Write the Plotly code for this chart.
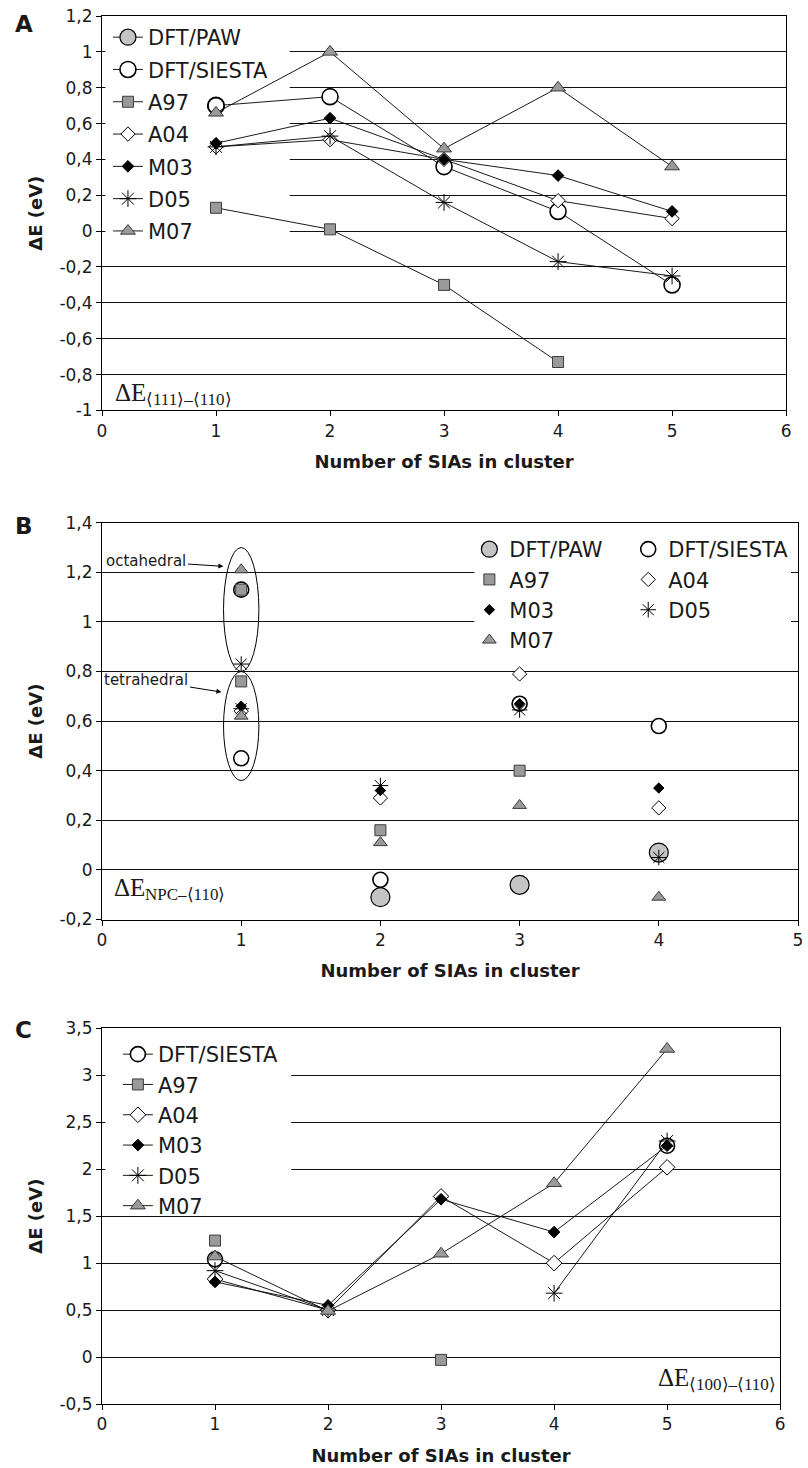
import plotly.graph_objects as go

FONT = "DejaVu Sans"
SERIF = "Liberation Serif"

# ---------------- data ----------------
series_names = ["DFT/PAW", "DFT/SIESTA", "A97", "A04", "M03", "D05", "M07"]

# Panel A : dE <111>-<110>
a_paw_x = [1]
a_paw = [0.70]
a_x = [1, 2, 3, 4, 5]
a_siesta = [0.70, 0.75, 0.36, 0.11, -0.30]
a_a97_x = [1, 2, 3, 4]
a_a97 = [0.13, 0.01, -0.30, -0.73]
a_a04 = [0.47, 0.51, 0.40, 0.17, 0.07]
a_m03 = [0.49, 0.63, 0.40, 0.31, 0.11]
a_d05 = [0.47, 0.53, 0.16, -0.17, -0.25]
a_m07 = [0.66, 1.00, 0.46, 0.80, 0.36]

# Panel B : dE NPC-<110>
b_paw_x = [2, 3, 4]
b_paw = [-0.11, -0.06, 0.07]
b_siesta_x = [1, 1, 2, 3, 4]
b_siesta = [1.13, 0.45, -0.04, 0.67, 0.58]
b_a97_x = [1, 1, 2, 3]
b_a97 = [1.13, 0.76, 0.16, 0.40]
b_a04_x = [1, 2, 3, 4]
b_a04 = [0.64, 0.29, 0.79, 0.25]
b_m03_x = [1, 2, 3, 4]
b_m03 = [0.66, 0.32, 0.67, 0.33]
b_d05_x = [1, 1, 2, 3, 4]
b_d05 = [0.83, 0.65, 0.34, 0.645, 0.05]
b_m07_x = [1, 1, 2, 3, 4]
b_m07 = [1.21, 0.62, 0.11, 0.26, -0.11]

# Panel C : dE <100>-<110>
c_x = [1, 2, 3, 4, 5]
c_siesta = [1.04, None, None, None, 2.25]
c_a97 = [1.24, None, -0.03, None, None]
c_a04 = [0.83, 0.50, 1.71, 1.00, 2.02]
c_m03 = [0.80, 0.55, 1.68, 1.33, 2.25]
c_d05 = [0.92, 0.50, None, 0.68, 2.30]
c_m07 = [1.07, 0.49, 1.10, 1.85, 3.28]

# tick labels
a_yticks = [-1, -0.8, -0.6, -0.4, -0.2, 0, 0.2, 0.4, 0.6, 0.8, 1, 1.2]
a_yticktext = ["-1", "-0,8", "-0,6", "-0,4", "-0,2", "0", "0,2", "0,4", "0,6", "0,8", "1", "1,2"]
b_yticks = [-0.2, 0, 0.2, 0.4, 0.6, 0.8, 1, 1.2, 1.4]
b_yticktext = ["-0,2", "0", "0,2", "0,4", "0,6", "0,8", "1", "1,2", "1,4"]
c_yticks = [-0.5, 0, 0.5, 1, 1.5, 2, 2.5, 3, 3.5]
c_yticktext = ["-0,5", "0", "0,5", "1", "1,5", "2", "2,5", "3", "3,5"]
x6_ticks = [0, 1, 2, 3, 4, 5, 6]
x5_ticks = [0, 1, 2, 3, 4, 5]

x_title = "Number of SIAs in cluster"
y_title = "ΔE (eV)"

# ---------------- styles ----------------
W, H = 808, 1468
L, R, T, B = 102, 5, 16, 64
PW = W - L - R
PH = H - T - B


def px_x(px):
    return (px - L) / PW


def px_y(py):
    return (H - B - py) / PH


GRAY = "#9a9a9a"
EDGE = "#3c3c3c"
mstyle = {
    "DFT/PAW": dict(symbol="circle", color="#c4c4c4", line=dict(color="black", width=1.2)),
    "DFT/SIESTA": dict(symbol="circle", color="white", line=dict(color="black", width=1.6)),
    "A97": dict(symbol="square", color=GRAY, line=dict(color=EDGE, width=1)),
    "A04": dict(symbol="diamond", color="white", line=dict(color="black", width=1)),
    "M03": dict(symbol="diamond", color="black", line=dict(color="black", width=1)),
    "D05": dict(symbol="asterisk-open", color="black", line=dict(color="black", width=1)),
    "M07": dict(symbol="triangle-up", color=GRAY, line=dict(color=EDGE, width=1)),
}
size_a = {"DFT/PAW": 17, "DFT/SIESTA": 16, "A97": 11, "A04": 11, "M03": 9, "D05": 14, "M07": 13}
size_b = {"DFT/PAW": 19, "DFT/SIESTA": 15, "A97": 11, "A04": 11, "M03": 8, "D05": 13, "M07": 12}
size_c = {"DFT/SIESTA": 15, "A97": 11, "A04": 12, "M03": 9, "D05": 14, "M07": 13}

fig = go.Figure()


def add(x, y, name, sizes, xa, ya, legend, mode, group):
    m = dict(mstyle[name])
    m["size"] = sizes[name]
    fig.add_trace(go.Scatter(
        x=x, y=y, name=name, mode=mode, xaxis=xa, yaxis=ya,
        marker=m, line=dict(color="black", width=0.9),
        legend=legend, legendgroup=group, connectgaps=False,
    ))


# Panel A
a_data = [(a_paw_x, a_paw), (a_x, a_siesta), (a_a97_x, a_a97), (a_x, a_a04),
          (a_x, a_m03), (a_x, a_d05), (a_x, a_m07)]
for nm, (xx, yy) in zip(series_names, a_data):
    add(xx, yy, nm, size_a, "x", "y", "legend", "lines+markers", "a" + nm)

# Panel B
b_data = [(b_paw_x, b_paw), (b_siesta_x, b_siesta), (b_a97_x, b_a97), (b_a04_x, b_a04),
          (b_m03_x, b_m03), (b_d05_x, b_d05), (b_m07_x, b_m07)]
b_leg = {"DFT/PAW": "legend2", "A97": "legend2", "M03": "legend2", "M07": "legend2",
         "DFT/SIESTA": "legend3", "A04": "legend3", "D05": "legend3"}
for nm, (xx, yy) in zip(series_names, b_data):
    add(xx, yy, nm, size_b, "x2", "y2", b_leg[nm], "markers", "b" + nm)

# Panel C
c_data = [c_siesta, c_a97, c_a04, c_m03, c_d05, c_m07]
for nm, yy in zip(series_names[1:], c_data):
    add(c_x, yy, nm, size_c, "x3", "y3", "legend4", "lines+markers", "c" + nm)

tickfont = dict(family=FONT, size=17, color="#1a1a1a")
titlefont = dict(family=FONT, size=18, color="#1a1a1a", weight="bold")


def xaxis(domain, rng, ticks, anchor):
    return dict(domain=domain, range=rng, anchor=anchor, tickvals=ticks,
                ticktext=[str(t) for t in ticks], showgrid=False, zeroline=False,
                showline=True, linecolor="black", linewidth=1, mirror=True,
                ticks="outside", ticklen=5, tickcolor="black", tickfont=tickfont,
                title=dict(text=x_title, font=titlefont, standoff=15))


def yaxis(domain, rng, ticks, text, anchor):
    return dict(domain=domain, range=rng, anchor=anchor, tickvals=ticks, ticktext=text,
                showgrid=True, gridcolor="#111111", gridwidth=1, zeroline=False,
                showline=True, linecolor="black", linewidth=1, mirror=True,
                ticks="outside", ticklen=5, tickcolor="black", tickfont=tickfont,
                title=dict(text=y_title, font=titlefont, standoff=12))


legfont = dict(family=FONT, size=21, color="#1a1a1a")


def legend(x, y, gap=0):
    return dict(x=x, y=y, xanchor="left", yanchor="top", bgcolor="rgba(0,0,0,0)",
                font=legfont, traceorder="grouped", tracegroupgap=gap, itemsizing="trace")


fig.update_layout(
    width=W, height=H, margin=dict(l=L, r=R, t=T, b=B),
    paper_bgcolor="white", plot_bgcolor="white",
    font=dict(family=FONT, color="#1a1a1a"),
    xaxis=xaxis([0, px_x(791)], [0, 6], x6_ticks, "y"),
    yaxis=yaxis([px_y(410.4), 1.0], [-1, 1.2], a_yticks, a_yticktext, "x"),
    xaxis2=xaxis([0, 1.0], [0, 5], x5_ticks, "y2"),
    yaxis2=yaxis([px_y(919.5), px_y(522.7)], [-0.2, 1.4], b_yticks, b_yticktext, "x2"),
    xaxis3=xaxis([0, px_x(785)], [0, 6], x6_ticks, "y3"),
    yaxis3=yaxis([0, px_y(1028.3)], [-0.5, 3.5], c_yticks, c_yticktext, "x3"),
    legend=legend(px_x(108), px_y(17), gap=2),
    legend2=legend(px_x(472), px_y(529)),
    legend3=legend(px_x(632), px_y(529)),
    legend4=legend(px_x(118), px_y(1034)),
    showlegend=True,
)

# white blocks hiding gridlines behind the legends (as in the original)
for xr, yr, x0, x1, y0, y1 in [("x", "y", 0.03, 1.646, -0.1, 1.1),
                               ("x2", "y2", 2.675, 4.95, 0.9, 1.3),
                               ("x3", "y3", 0.03, 1.674, 1.75, 3.25)]:
    fig.add_shape(type="rect", xref=xr, yref=yr, x0=x0, x1=x1, y0=y0, y1=y1,
                  fillcolor="white", line=dict(width=0), layer="between")

# ellipses in panel B
for y0, y1 in [(0.80, 1.30), (0.36, 0.80)]:
    fig.add_shape(type="circle", xref="x2", yref="y2", x0=0.873, x1=1.127, y0=y0, y1=y1,
                  line=dict(color="black", width=1), layer="above")

# annotations
for lbl, py in [("A", 24), ("B", 526), ("C", 1030)]:
    fig.add_annotation(text=lbl, xref="paper", yref="paper", x=px_x(23), y=px_y(py),
                       xanchor="center", yanchor="middle", showarrow=False,
                       font=dict(family=FONT, size=23, color="#1a1a1a", weight="bold"))

serif = dict(family=SERIF, size=25, color="#1a1a1a")
serif_sub = dict(family=SERIF, size=17, color="#1a1a1a")
for xr, yr, x, y, sub in [("x", "y", 0.1, -0.9, "⟨111⟩–⟨110⟩"),
                          ("x2", "y2", 0.07, -0.07, "NPC–⟨110⟩"),
                          ("x3", "y3", 4.90, -0.22, "⟨100⟩–⟨110⟩")]:
    fig.add_annotation(text="ΔE", xref=xr, yref=yr, x=x, y=y, xanchor="left",
                       yanchor="middle", showarrow=False, font=serif)
    fig.add_annotation(text=sub, xref=xr, yref=yr, x=x, y=y, xanchor="left",
                       yanchor="middle", xshift=31, yshift=-7, showarrow=False,
                       font=serif_sub)

small = dict(family=FONT, size=15, color="#1a1a1a")
fig.add_annotation(text="octahedral", xref="x2", yref="y2", x=0.872, y=1.224,
                   ax=-77, ay=-5, showarrow=True, arrowhead=2, arrowsize=1,
                   arrowwidth=1, arrowcolor="black", font=small)
fig.add_annotation(text="tetrahedral", xref="x2", yref="y2", x=0.858, y=0.717,
                   ax=-75, ay=-12, showarrow=True, arrowhead=2, arrowsize=1,
                   arrowwidth=1, arrowcolor="black", font=small)

fig.write_html("out.html")
